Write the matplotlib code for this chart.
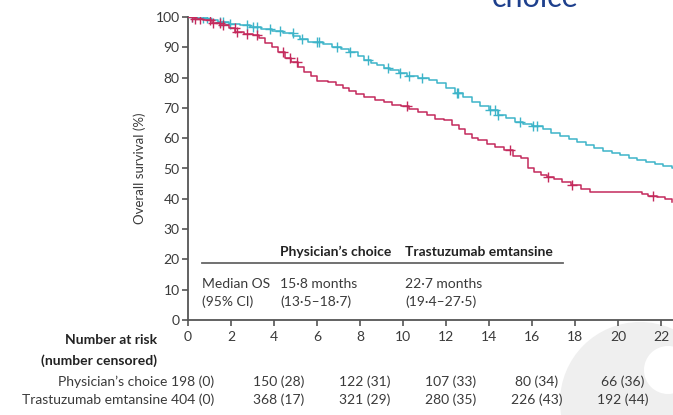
import numpy as np
import matplotlib
matplotlib.use("Agg")
import matplotlib.pyplot as plt
from matplotlib.transforms import blended_transform_factory
from matplotlib.patches import Ellipse

plt.rcParams["font.family"] = ["Lato", "DejaVu Sans"]

# Kaplan-Meier step points (months, overall survival %)
tdm1_time = [0, 0.4, 0.9, 1.4, 1.9, 2.4, 2.9, 3.4, 3.9, 4.4, 4.9, 5.2, 5.6, 6.3, 6.7,
             7.1, 7.5, 7.9, 8.2, 8.5, 8.8, 9.1, 9.4, 9.8, 10.2, 10.7, 11.2, 11.6, 12.0,
             12.4, 12.8, 13.2, 13.6, 14.0, 14.4, 14.8, 15.2, 15.6, 16.0, 16.5, 16.9,
             17.3, 17.7, 18.1, 18.5, 18.9, 19.3, 19.7, 20.1, 20.5, 20.9, 21.3, 21.7,
             22.1, 22.5, 22.7]
tdm1_surv = [100, 99.6, 99.0, 98.4, 97.8, 97.2, 96.6, 96.0, 95.4, 94.8, 93.8, 92.6, 91.8,
             91.0, 90.2, 89.4, 88.5, 87.0, 85.8, 84.8, 84.0, 83.2, 82.4, 81.4, 80.6, 80.0,
             79.2, 78.2, 76.5, 75.0, 73.5, 72.0, 70.6, 69.2, 67.8, 66.6, 65.4, 64.6, 64.0,
             63.0, 61.8, 60.8, 59.8, 58.8, 57.8, 56.8, 55.8, 55.0, 54.4, 53.6, 52.8, 52.0,
             51.4, 50.8, 50.2, 49.8]
tdm1_censor = [0.19, 0.7, 0.88, 1.5, 1.63, 1.95, 2.74, 3.02, 3.2, 3.81, 4.28, 4.88, 5.3,
               6.0, 6.1, 6.93, 7.53, 8.37, 9.3, 9.86, 10.3, 10.9, 12.5, 12.56, 14.05,
               14.28, 14.42, 15.44, 16.05, 16.23]

pc_time = [0, 0.3, 0.7, 1.1, 1.5, 1.9, 2.2, 2.6, 3.0, 3.3, 3.6, 3.9, 4.2, 4.5, 4.8, 5.1,
           5.4, 5.7, 6.0, 6.5, 6.9, 7.2, 7.5, 7.8, 8.2, 8.7, 9.1, 9.5, 9.9, 10.3, 10.7,
           11.1, 11.5, 11.9, 12.3, 12.6, 12.9, 13.2, 13.5, 13.9, 14.3, 14.7, 15.1, 15.5,
           15.8, 16.1, 16.4, 16.7, 17.0, 17.4, 17.8, 18.3, 18.7, 21.1, 21.4, 21.8, 22.2,
           22.5]
pc_surv = [100, 99.5, 99.0, 98.0, 97.5, 96.5, 95.0, 94.5, 94.0, 93.0, 91.5, 90.0, 88.5,
           86.5, 85.0, 83.5, 82.0, 80.5, 79.0, 78.5, 77.5, 76.5, 75.5, 74.5, 73.5, 72.5,
           72.0, 71.0, 70.5, 69.5, 68.5, 67.5, 66.5, 66.0, 64.5, 63.0, 61.5, 60.0, 59.5,
           58.0, 57.0, 56.0, 54.0, 53.5, 50.0, 49.0, 48.0, 47.3, 46.5, 45.5, 44.5, 43.3,
           42.3, 41.6, 41.0, 40.5, 39.8, 39.0]
pc_censor = [0.19, 0.33, 0.56, 1.02, 1.16, 1.49, 1.63, 2.19, 2.28, 2.74, 3.2, 4.42, 4.74,
             5.07, 10.19, 14.98, 16.74, 17.86, 21.63]

x_ticks = [0, 2, 4, 6, 8, 10, 12, 14, 16, 18, 20, 22]
y_ticks = [0, 10, 20, 30, 40, 50, 60, 70, 80, 90, 100]

risk_months = [0, 4, 8, 12, 16, 20]
risk_pc = ["198 (0)", "150 (28)", "122 (31)", "107 (33)", "80 (34)", "66 (36)"]
risk_tdm1 = ["404 (0)", "368 (17)", "321 (29)", "280 (35)", "226 (43)", "192 (44)"]

arm_names = ["Physician\u2019s choice", "Trastuzumab emtansine"]
median_text = ["15\u00b78 months\n(13\u00b75\u201318\u00b77)", "22\u00b77 months\n(19\u00b74\u201327\u00b75)"]

BLUE = "#3db4c9"
RED = "#c42a5c"
AXC = "#555555"
TXT = "#3a3a3a"
FS = 10

W, H = 673, 415
fig = plt.figure(figsize=(W / 100, H / 100), dpi=100)

# background layer: faint logo mark in the lower right corner
bg = fig.add_axes([0, 0, 1, 1], zorder=-10)
bg.set_xlim(0, W)
bg.set_ylim(H, 0)
bg.axis("off")
bg.add_patch(Ellipse((640, 402), 160, 160, color="#efefef", lw=0))
bg.add_patch(Ellipse((668, 370), 48, 48, color="white", lw=0))

# heading fragment at the top edge
fig.text(535 / W, (H - 7) / H, "choice", color="#1d3f8c", fontsize=22,
         ha="center", va="baseline")

ax = fig.add_axes([188 / W, 95 / H, 485 / W, 303 / H], zorder=1)
ax.patch.set_alpha(0)
ax.set_xlim(0, 485 / 21.5)
ax.set_ylim(0, 100)

def step_value(times, surv, t):
    idx = np.searchsorted(np.asarray(times), np.asarray(t), side="right") - 1
    return np.asarray(surv)[idx]

for times, surv, cens, col in [(tdm1_time, tdm1_surv, tdm1_censor, BLUE),
                               (pc_time, pc_surv, pc_censor, RED)]:
    ax.plot(times, surv, drawstyle="steps-post", color=col, lw=1.1, zorder=3)
    ax.plot(cens, step_value(times, surv, cens), ls="none", marker="+", ms=7,
            mew=1.0, color=col, zorder=3)

for s in ["top", "right"]:
    ax.spines[s].set_visible(False)
for s in ["left", "bottom"]:
    ax.spines[s].set_color(AXC)
    ax.spines[s].set_linewidth(1.3)

ax.set_xticks(x_ticks)
ax.set_yticks(y_ticks)
ax.tick_params(axis="both", colors=AXC, labelcolor=TXT, labelsize=FS, length=4, width=1.2)
ax.tick_params(axis="x", pad=4)
ax.tick_params(axis="y", pad=2)
ax.set_ylabel("Overall survival (%)", fontsize=9.5, color=TXT, labelpad=7)

# median overall survival box
ax.plot([0.65, 17.45], [18.8, 18.8], color="#666666", lw=1.3)
ax.text(4.28, 22.4, arm_names[0], fontsize=FS, fontweight="bold", color="#222222",
        ha="left", va="center")
ax.text(10.1, 22.4, arm_names[1], fontsize=FS, fontweight="bold", color="#222222",
        ha="left", va="center")
ax.text(0.65, 9.0, "Median OS\n(95% CI)", fontsize=FS, color=TXT, ha="left",
        va="center", linespacing=1.55)
ax.text(4.28, 9.0, median_text[0], fontsize=FS, color=TXT, ha="left", va="center",
        linespacing=1.55)
ax.text(10.1, 9.0, median_text[1], fontsize=FS, color=TXT, ha="left", va="center",
        linespacing=1.55)

# number-at-risk table
tr = blended_transform_factory(ax.transData, fig.transFigure)
fig.text(157 / W, (H - 340) / H, "Number at risk", fontsize=FS, fontweight="bold",
         color="#222222", ha="right", va="center")
fig.text(157 / W, (H - 361) / H, "(number censored)", fontsize=FS, fontweight="bold",
         color="#222222", ha="right", va="center")
fig.text(167 / W, (H - 382) / H, arm_names[0], fontsize=FS, color=TXT, ha="right",
         va="center")
fig.text(167 / W, (H - 400) / H, arm_names[1], fontsize=FS, color=TXT, ha="right",
         va="center")
for m, a, b in zip(risk_months, risk_pc, risk_tdm1):
    ax.text(m + 0.2, (H - 382) / H, a, transform=tr, fontsize=FS, color=TXT,
            ha="center", va="center")
    ax.text(m + 0.2, (H - 400) / H, b, transform=tr, fontsize=FS, color=TXT,
            ha="center", va="center")

fig.savefig("out.png", dpi=100)
